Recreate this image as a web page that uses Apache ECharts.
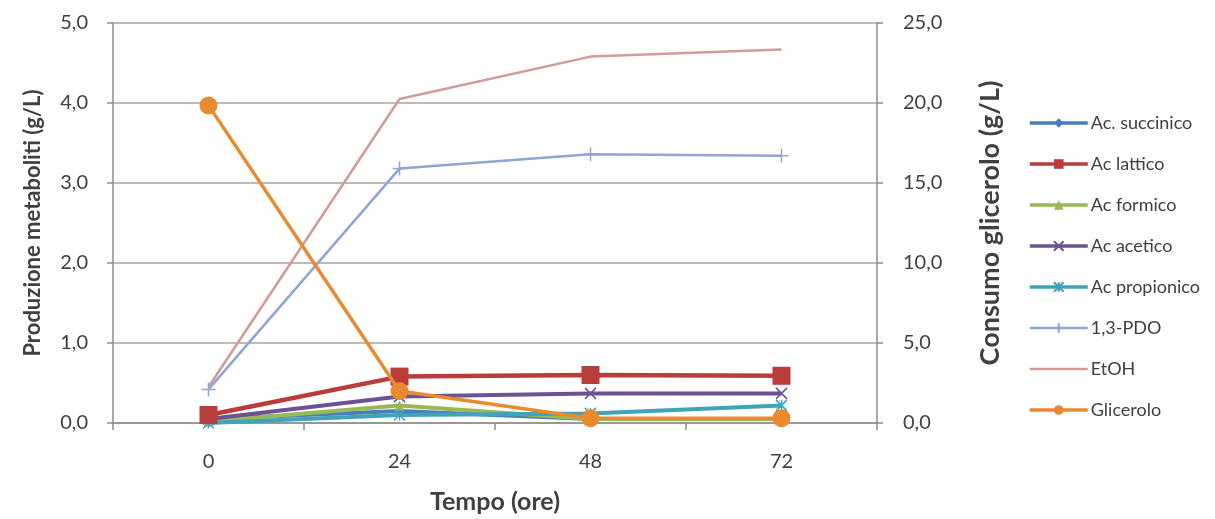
<!DOCTYPE html>
<html>
<head>
<meta charset="utf-8">
<script src="https://cdn.jsdelivr.net/npm/echarts@6/dist/echarts.min.js"></script>
<style>
  html, body { margin: 0; padding: 0; background: #ffffff; }
  #chart { width: 1215px; height: 519px; }
</style>
</head>
<body>
<div id="chart"></div>
<script>
// Time points (hours)
const tempi = ['0', '24', '48', '72'];

// Metabolite production (g/L) – left axis
const acSuccinico   = [0.05, 0.15, 0.05, 0.05];
const acLattico     = [0.10, 0.58, 0.60, 0.59];
const acFormico     = [0.02, 0.22, 0.05, 0.05];
const acAcetico     = [0.05, 0.33, 0.37, 0.37];
const acPropionico  = [0.00, 0.10, 0.12, 0.22];
const pdo13         = [0.42, 3.18, 3.36, 3.34];
const etoh          = [0.45, 4.05, 4.58, 4.67];

// Glycerol (g/L) – right axis
const glicerolo     = [19.85, 2.0, 0.3, 0.3];

// Axis ranges
const leftAxis  = { min: 0, max: 5, step: 1 };
const rightAxis = { min: 0, max: 25, step: 5 };

const FONT = 'Lato';
const TXT = '#404040';
const AXIS = '#8c8c8c';
const fmt = v => v.toFixed(1).replace('.', ',');

const crossPath = 'path://M0,0L10,10M10,0L0,10';
const plusPath  = 'path://M5,0L5,10M0,5L10,5';
const starPath  = 'path://M0,0L10,10M10,0L0,10M5,0L5,10';

function metab(name, data, color, symbol, size, width, z) {
  const isPath = symbol.startsWith('path');
  return {
    name, type: 'line', data, yAxisIndex: 0,
    symbol, symbolSize: size, showSymbol: symbol !== 'none',
    lineStyle: { color, width },
    itemStyle: { color, borderColor: color, borderWidth: isPath ? 1.5 : 0 },
    z: z || 2,
    animation: false
  };
}

const legendItem = (name, width, hideSymbol) => ({
  name,
  lineStyle: { width },
  itemStyle: hideSymbol ? { opacity: 0 } : undefined
});

const chart = echarts.init(document.getElementById('chart'), null, { renderer: 'canvas' });

chart.setOption({
  backgroundColor: '#ffffff',
  animation: false,
  textStyle: { fontFamily: FONT },
  grid: { left: 113, right: 338, top: 23, bottom: 90, containLabel: false },
  legend: {
    orient: 'vertical',
    left: 1028,
    top: 114,
    padding: 0,
    itemWidth: 58,
    itemHeight: 12,
    itemGap: 23,
    textStyle: { fontFamily: FONT, fontSize: 18, color: TXT, padding: [0, 0, 0, -2] },
    data: [
      legendItem('Ac. succinico', 3.5),
      legendItem('Ac lattico', 3.5),
      legendItem('Ac formico', 3.5),
      legendItem('Ac acetico', 3.5),
      legendItem('Ac propionico', 3.5),
      legendItem('1,3-PDO', 2.5),
      legendItem('EtOH', 2.5, true),
      legendItem('Glicerolo', 3.5)
    ]
  },
  xAxis: {
    type: 'category',
    data: tempi,
    boundaryGap: true,
    name: 'Tempo (ore)',
    nameLocation: 'middle',
    nameGap: 66,
    nameTextStyle: { fontFamily: FONT, fontSize: 25, fontWeight: 'bold', color: TXT },
    axisLine: { lineStyle: { color: AXIS, width: 1.5 } },
    axisTick: { show: true, length: 7, lineStyle: { color: AXIS, width: 1.5 } },
    axisLabel: { margin: 29, fontFamily: FONT, fontSize: 20, color: TXT },
    splitLine: { show: false }
  },
  yAxis: [
    {
      type: 'value',
      min: leftAxis.min, max: leftAxis.max, interval: leftAxis.step,
      position: 'left',
      name: 'Produzione metaboliti (g/L)',
      nameLocation: 'middle',
      nameGap: 69,
      nameTextStyle: { fontFamily: FONT, fontSize: 22, fontWeight: 'bold', color: TXT },
      axisLine: { show: true, lineStyle: { color: AXIS, width: 1.5 } },
      axisTick: { show: true, length: 6, lineStyle: { color: AXIS, width: 1.5 } },
      axisLabel: { margin: 25, fontFamily: FONT, fontSize: 20, color: TXT, formatter: fmt },
      splitLine: { show: true, lineStyle: { color: '#a6a6a6', width: 1.5 } }
    },
    {
      type: 'value',
      min: rightAxis.min, max: rightAxis.max, interval: rightAxis.step,
      position: 'right',
      name: 'Consumo glicerolo (g/L)',
      nameLocation: 'middle',
      nameGap: 100,
      nameRotate: 90,
      nameTextStyle: { fontFamily: FONT, fontSize: 27, fontWeight: 'bold', color: TXT },
      axisLine: { show: true, lineStyle: { color: AXIS, width: 1.5 } },
      axisTick: { show: true, length: 6, lineStyle: { color: AXIS, width: 1.5 } },
      axisLabel: { margin: 26, fontFamily: FONT, fontSize: 20, color: TXT, formatter: fmt },
      splitLine: { show: false }
    }
  ],
  series: [
    metab('Ac. succinico', acSuccinico, '#4a7ebb', 'diamond', 10, 4),
    metab('Ac lattico', acLattico, '#b83d3b', 'rect', 18, 4.5, 3),
    metab('Ac formico', acFormico, '#98b954', 'triangle', 10, 4),
    metab('Ac acetico', acAcetico, '#6a5294', crossPath, 11, 4),
    metab('Ac propionico', acPropionico, '#3fa3bc', starPath, 11, 4),
    metab('1,3-PDO', pdo13, '#8fa5d2', plusPath, 14, 2.5),
    metab('EtOH', etoh, '#d39a9a', 'none', 0, 2.5),
    {
      name: 'Glicerolo', type: 'line', data: glicerolo, yAxisIndex: 1,
      symbol: 'circle', symbolSize: 18,
      lineStyle: { color: '#ea8a2e', width: 3.5 },
      itemStyle: { color: '#ea8a2e' },
      z: 5, animation: false
    }
  ]
});
</script>
</body>
</html>
